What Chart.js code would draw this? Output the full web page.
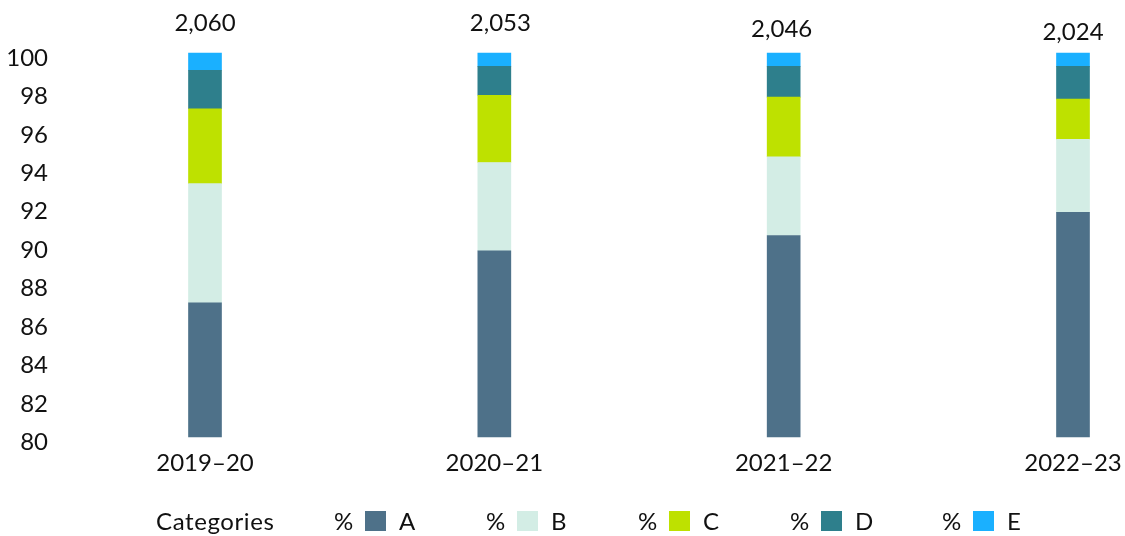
<!DOCTYPE html>
<html>
<head>
<meta charset="utf-8">
<script src="https://cdn.jsdelivr.net/npm/chart.js@4/dist/chart.umd.min.js"></script>
<style>
  html, body { margin: 0; padding: 0; background: #ffffff; }
  #wrap { position: relative; width: 1125px; height: 536px; overflow: hidden; font-family: Lato, "Noto Sans", sans-serif; color: #111111; }
  #chart { position: absolute; left: 0; top: 0; }
  #legend { position: absolute; left: 156px; top: 505px; height: 32px; display: flex; align-items: center; font-size: 24px; line-height: 32px; }
  #legend .title { width: 178px; letter-spacing: 0.6px; }
  #legend .item { width: 152px; display: flex; align-items: center; }
  #legend .pct { width: 31px; }
  #legend .box { width: 21px; height: 20px; margin-right: 13px; }
</style>
</head>
<body>
<div id="wrap">
  <canvas id="chart" width="1125" height="536"></canvas>
  <div id="legend"></div>
</div>
<script>
// Years on the horizontal axis
const categories = ['2019–20', '2020–21', '2021–22', '2022–23'];
// Number of respondents shown above each column
const totals = [2060, 2053, 2046, 2024];
// Share of each category, per cent
const seriesNames = ['A', 'B', 'C', 'D', 'E'];
const shareA = [87.0, 89.7, 90.5, 91.7];
const shareB = [6.2, 4.6, 4.1, 3.8];
const shareC = [3.9, 3.5, 3.1, 2.1];
const shareD = [2.0, 1.5, 1.6, 1.7];
const shareE = [0.9, 0.7, 0.7, 0.7];
// Value axis ticks
const yTicks = [80, 82, 84, 86, 88, 90, 92, 94, 96, 98, 100];

const colours = ['#4e7189', '#d3ede5', '#bee100', '#2e7f8c', '#1ab0ff'];
const series = [shareA, shareB, shareC, shareD, shareE];
const FONT = 'Lato, "Noto Sans", sans-serif';

// Totals written above each column
const totalsPlugin = {
  id: 'totals',
  afterDatasetsDraw(chart, args, opts) {
    const ctx = chart.ctx;
    const x = chart.scales.x;
    const y = chart.scales.y;
    ctx.save();
    ctx.font = '24px ' + FONT;
    ctx.fillStyle = '#111111';
    ctx.textAlign = 'center';
    ctx.textBaseline = 'middle';
    totals.forEach((t, i) => {
      const sh = opts.shift[i] || [0, 0];
      ctx.fillText(t.toLocaleString('en-US'), x.getPixelForValue(i) + sh[0], y.getPixelForValue(100) - opts.gap + sh[1]);
    });
    ctx.restore();
  }
};

new Chart(document.getElementById('chart'), {
  type: 'bar',
  data: {
    labels: categories,
    datasets: series.map((vals, k) => ({
      label: seriesNames[k],
      data: vals,
      backgroundColor: colours[k],
      borderWidth: 0,
      barThickness: 33,
      clip: { left: false, right: false, top: false, bottom: 0 }
    }))
  },
  options: {
    responsive: false,
    animation: false,
    devicePixelRatio: 1,
    layout: { padding: { left: 0, right: 52, top: 53, bottom: 46 } },
    plugins: {
      legend: { display: false },
      tooltip: { enabled: false },
      totals: { gap: 30, shift: [[0, 0], [6, 0], [-2, 6], [0, 9]] }
    },
    scales: {
      x: {
        stacked: true,
        offset: false,
        // end columns sit on the plot edges; labels may overhang
        afterFit(scale) { scale.paddingLeft = 0; scale.paddingRight = 0; },
        grid: { display: false, drawTicks: false },
        border: { display: false },
        ticks: { color: '#111111', font: { family: FONT, size: 24 }, padding: 12, maxRotation: 0, autoSkip: false }
      },
      y: {
        stacked: true,
        min: 80,
        max: 100,
        afterBuildTicks(scale) { scale.ticks = yTicks.map(v => ({ value: v })); },
        // fixed axis band: labels end 157px left of the first column;
        // the gap should not pad the plot vertically
        afterFit(scale) { scale.width = 205; scale.paddingTop = 0; scale.paddingBottom = 0; },
        grid: { display: false, drawTicks: false },
        border: { display: false },
        ticks: { color: '#111111', font: { family: FONT, size: 24 }, padding: 157, labelOffset: 5 }
      }
    }
  },
  plugins: [totalsPlugin]
});

// Legend row: title, then "% [swatch] name" for each category
const legend = document.getElementById('legend');
const title = document.createElement('span');
title.className = 'title';
title.textContent = 'Categories';
legend.appendChild(title);
seriesNames.forEach((name, k) => {
  const item = document.createElement('span');
  item.className = 'item';
  item.innerHTML = '<span class="pct">%</span><span class="box" style="background:' + colours[k] + '"></span><span>' + name + '</span>';
  legend.appendChild(item);
});
</script>
</body>
</html>
